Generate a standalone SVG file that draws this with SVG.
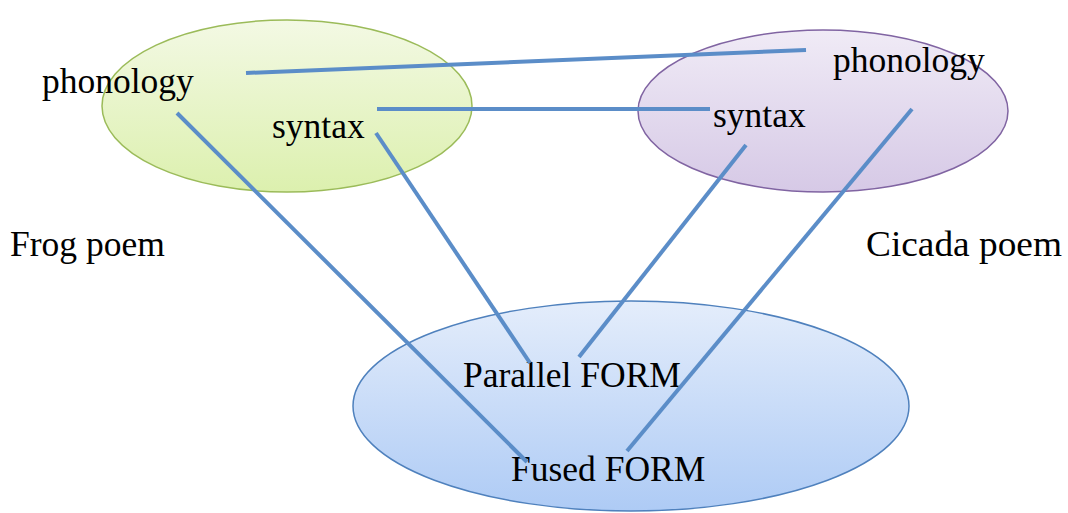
<svg xmlns="http://www.w3.org/2000/svg" width="1068" height="513" viewBox="0 0 1068 513">
<defs>
<linearGradient id="gG" x1="0" y1="0" x2="0" y2="1"><stop offset="0" stop-color="#f3f9e4"/><stop offset="1" stop-color="#dcf0ae"/></linearGradient>
<linearGradient id="gP" x1="0" y1="0" x2="0" y2="1"><stop offset="0" stop-color="#f0ebf6"/><stop offset="1" stop-color="#d6c9e6"/></linearGradient>
<linearGradient id="gB" x1="0" y1="0" x2="0" y2="1"><stop offset="0" stop-color="#e4edfb"/><stop offset="1" stop-color="#aecbf5"/></linearGradient>
</defs>
<style>
text{font-family:"Liberation Serif","Times New Roman",serif;font-size:35.5px;fill:#000}
.c line{stroke:#5b8dc8;stroke-width:4;stroke-linecap:butt}
</style>
<rect width="1068" height="513" fill="#fff"/>
<g id="frog"><ellipse cx="287" cy="106" rx="185" ry="86" fill="url(#gG)" stroke="#9bbb59" stroke-width="1.5"/></g>
<g id="cicada"><ellipse cx="823" cy="111" rx="185" ry="81" fill="url(#gP)" stroke="#8064a2" stroke-width="1.5"/></g>
<g id="form"><ellipse cx="631" cy="406" rx="278" ry="105" fill="url(#gB)" stroke="#4f81bd" stroke-width="1.5"/></g>
<g id="labels">
<text x="42" y="93">phonology</text>
<text x="272" y="138">syntax</text>
<text x="833" y="72">phonology</text>
<text x="713" y="127">syntax</text>
<text x="10" y="256">Frog poem</text>
<text x="866" y="256" textLength="196" lengthAdjust="spacingAndGlyphs">Cicada poem</text>
<text x="463" y="387">Parallel FORM</text>
<text x="511" y="481">Fused FORM</text>
</g>
<g class="c" id="connectors">
<line x1="246" y1="73" x2="806" y2="50"/>
<line x1="377" y1="109" x2="710" y2="109"/>
<line x1="177" y1="113" x2="527" y2="462"/>
<line x1="376" y1="133" x2="530" y2="363"/>
<line x1="746" y1="145" x2="579" y2="357"/>
<line x1="912" y1="109" x2="627" y2="451"/>
</g>
</svg>
